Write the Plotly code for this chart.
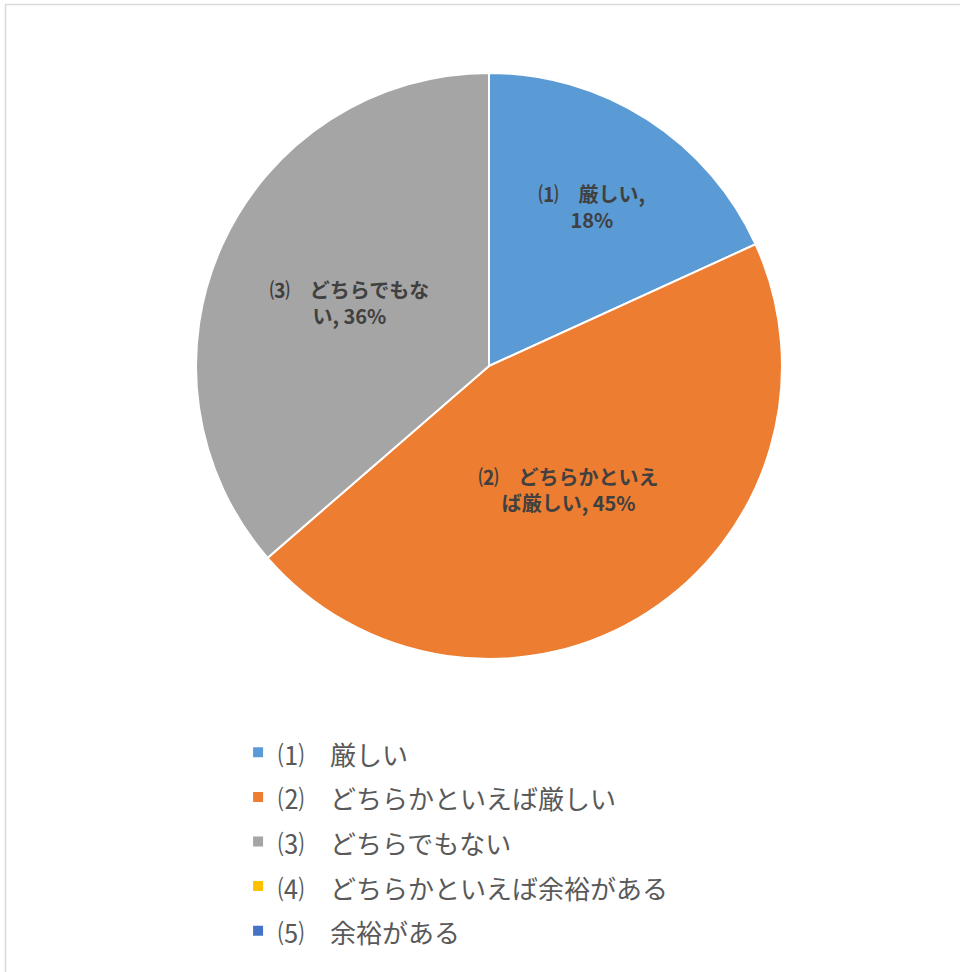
import plotly.graph_objects as go

labels = ["⑴　厳しい", "⑵　どちらかといえば厳しい", "⑶　どちらでもない",
          "⑷　どちらかといえば余裕がある", "⑸　余裕がある"]
values = [18, 45, 36, 0, 0]
data_labels = ["⑴　厳しい,<br>18%", "⑵　どちらかといえ<br>ば厳しい, 45%",
               "⑶　どちらでもな<br>い, 36%", "", ""]
colors = ["#5B9BD5", "#ED7D31", "#A5A5A5", "#FFC000", "#4472C4"]

W, H = 960, 972
cx, cy, r = 489, 366, 293

legend_labels = ['<span style="font-size:26px">' + s + '</span>' for s in labels]

fig = go.Figure(go.Pie(
    labels=legend_labels, values=values, text=data_labels,
    texttemplate="%{text}", textposition="inside",
    insidetextorientation="horizontal",
    hovertemplate="%{text}<extra></extra>",
    sort=False, direction="clockwise", rotation=0,
    marker=dict(colors=colors, line=dict(color="white", width=2)),
    textfont=dict(family="Noto Sans CJK JP", size=20, color="#404040", weight="bold"),
    domain=dict(x=[(cx - r) / W, (cx + r) / W], y=[1 - (cy + r) / H, 1 - (cy - r) / H]),
    showlegend=True,
))

fig.add_shape(type="rect", xref="paper", yref="paper",
              x0=5.5 / W, x1=1.02, y0=-0.02, y1=1 - 4.5 / H,
              line=dict(color="#D9D9D9", width=1.5), fillcolor="rgba(0,0,0,0)")

fig.update_layout(
    width=W, height=H, margin=dict(l=0, r=0, t=0, b=0),
    paper_bgcolor="white", plot_bgcolor="white",
    uniformtext=dict(minsize=20, mode="show"),
    legend=dict(x=0.248, y=1 - 725 / H, xanchor="left", yanchor="top",
                font=dict(family="Noto Sans CJK JP", size=32, color="#595959"),
                traceorder="normal"),
)
fig.write_html("out.html", config={"displayModeBar": False},
               post_script="document.body.style.margin='0px';")
